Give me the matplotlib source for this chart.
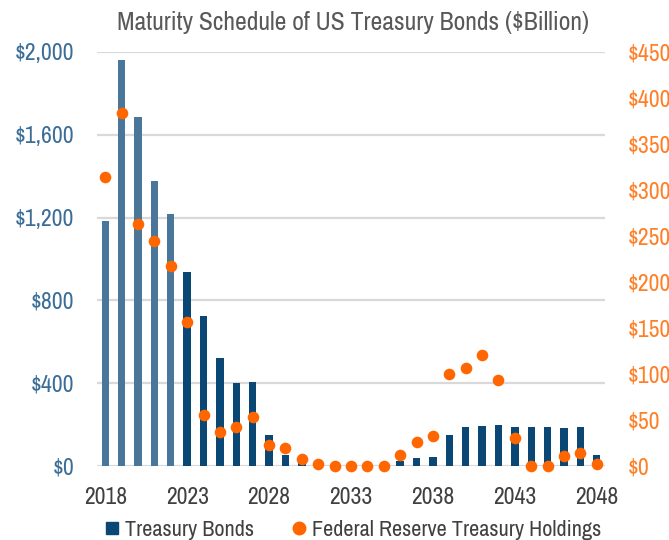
import matplotlib
matplotlib.use("Agg")
import matplotlib.pyplot as plt
from matplotlib import font_manager
from matplotlib.lines import Line2D

# look for a narrow / condensed face, the reference uses one
fonts = font_manager.fontManager.ttflist
narrow = [f for f in fonts if "Narrow" in f.name or "Condensed" in f.name]
scale = 1.0
if narrow:
    plt.rcParams["font.family"] = [narrow[0].name, "DejaVu Sans"]
else:
    plt.rcParams["font.family"] = ["Liberation Sans", "DejaVu Sans"]
    scale = 0.86

years = list(range(2018, 2049))
bonds = [1185, 1960, 1685, 1377, 1217, 939, 723, 520, 400, 404,
         150, 53, 25, 3, 0, 0, 0, 0, 24, 39,
         45, 150, 187, 193, 196, 188, 188, 188, 184, 187, 52]
fed = [314, 384, 263, 245, 217, 156, 55, 37, 42, 53,
       23, 20, 8, 2.5, 0, 0, 0, 0, 12, 26,
       33, 100, 107, 121, 94, 30, 0, 0, 10.5, 14, 2.5]
xticks = [2018, 2023, 2028, 2033, 2038, 2043, 2048]
left_ticks = [0, 400, 800, 1200, 1600, 2000]
right_ticks = list(range(0, 451, 50))

light = "#4a7699"
dark = "#0b4775"
orange = "#ff6600"
fs = 17 * scale

fig = plt.figure(figsize=(6.69, 5.40), dpi=100)
ax = fig.add_axes([97 / 669, 1 - 466 / 540, 508 / 669, 414 / 540])

colors = [light if y < 2023 else dark for y in years]
ax.bar(years, bonds, width=0.45, color=colors, zorder=2)
ax.set_xlim(2017.5, 2048.5)
ax.set_ylim(0, 2000)
ax.set_yticks(left_ticks)
ax.set_yticklabels(["${:,}".format(v) for v in left_ticks])
ax.set_xticks(xticks)
ax.grid(axis="y", color="#d9d9d9", linewidth=1.6, zorder=0)
ax.set_axisbelow(True)
for s in ax.spines.values():
    s.set_visible(False)
ax.tick_params(axis="y", length=0, pad=16.5, labelsize=fs, labelcolor="#3a6d97")
ax.tick_params(axis="x", length=0, pad=15, labelsize=fs, labelcolor="#404040")

ax2 = ax.twinx()
ax2.scatter(years, fed, s=70, color=orange, zorder=3, clip_on=False, linewidths=0)
ax2.set_ylim(0, 450)
ax2.set_yticks(right_ticks)
ax2.set_yticklabels(["${}".format(v) for v in right_ticks])
for s in ax2.spines.values():
    s.set_visible(False)
ax2.tick_params(axis="y", length=0, pad=16.5, labelsize=fs, labelcolor="#ff7f27")

fig.text(353 / 669, 1 - 23 / 540, "Maturity Schedule of US Treasury Bonds ($Billion)",
         ha="center", va="center", fontsize=18.5 * scale, color="#595959")

handles = [Line2D([], [], marker="s", linestyle="none", color=dark, markersize=9),
           Line2D([], [], marker="o", linestyle="none", color=orange, markersize=9)]
fig.legend(handles, ["Treasury Bonds", "Federal Reserve Treasury Holdings"],
           loc="center", bbox_to_anchor=(351 / 669, 1 - 530 / 540), ncol=2,
           frameon=False, fontsize=16 * scale, handletextpad=0.1, columnspacing=1.5,
           handlelength=1.0, labelcolor="#404040")

fig.savefig("out.png", dpi=100)
